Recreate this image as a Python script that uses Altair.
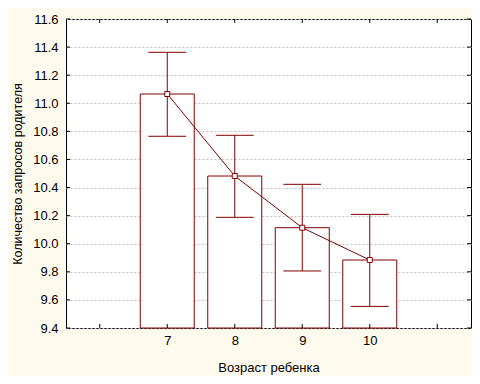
import altair as alt
import pandas as pd

# Data
ages = [7, 8, 9, 10]
means = [11.066, 10.482, 10.114, 9.884]
upper = [11.363, 10.772, 10.423, 10.209]
lower = [10.765, 10.188, 9.806, 9.554]

y_ticks = [9.4, 9.6, 9.8, 10.0, 10.2, 10.4, 10.6, 10.8, 11.0, 11.2, 11.4, 11.6]
x_ticks = [6, 7, 8, 9, 10, 11]

RED = "#800000"
BG = "#fffaee"
FONT = "Liberation Sans"
W, H = 405, 309

df = pd.DataFrame({"age": ages, "mean": means, "lo": lower, "hi": upper})
yt = pd.DataFrame({"v": y_ticks})
xt = pd.DataFrame({"v": x_ticks})

x_scale = alt.Scale(domain=[5.5, 11.5], nice=False, zero=False)
y_scale = alt.Scale(domain=[9.4, 11.6], nice=False, zero=False)

x_axis = alt.Axis(
    title="Возраст ребенка", values=x_ticks,
    labelExpr="datum.value >= 7 && datum.value <= 10 ? datum.label : ''",
    ticks=False, domain=False, grid=False, labelPadding=6,
    titleY=39, titleBaseline="middle", titleFontSize=13,
)
y_axis = alt.Axis(
    title="Количество запросов родителя", values=y_ticks, format=".1f",
    ticks=False, domain=False, grid=True, gridColor="#c0c0c0",
    gridDash=[2, 2], gridWidth=1, labelPadding=8,
    titleX=-49, titleY=H / 2, titleAngle=270, titleAlign="center",
    titleBaseline="middle", titleFontSize=12.5,
)


def X(field):
    return alt.X(field, scale=x_scale, axis=x_axis)


def Y(field):
    return alt.Y(field, scale=y_scale, axis=y_axis)


base = alt.Chart(df)

bars = base.transform_calculate(
    x0="datum.age - 0.4", x1="datum.age + 0.4"
).mark_bar(fill="white", stroke=RED, strokeWidth=1).encode(
    x=X("x0:Q"), x2="x1:Q", y=Y("mean:Q"), y2=alt.datum(9.4),
)

line = base.mark_line(color=RED, strokeWidth=1).encode(
    x=X("age:Q"), y=Y("mean:Q"),
)

err = base.mark_rule(color=RED, strokeWidth=1).encode(
    x=X("age:Q"), y=Y("lo:Q"), y2="hi:Q",
)

caps_base = base.transform_calculate(
    c0="datum.age - 0.28", c1="datum.age + 0.28"
)
cap_hi = caps_base.mark_rule(color=RED, strokeWidth=1).encode(
    x=X("c0:Q"), x2="c1:Q", y=Y("hi:Q"),
)
cap_lo = caps_base.mark_rule(color=RED, strokeWidth=1).encode(
    x=X("c0:Q"), x2="c1:Q", y=Y("lo:Q"),
)

points = base.mark_square(size=25, fill="white", stroke=RED,
                          strokeWidth=1, opacity=1).encode(
    x=X("age:Q"), y=Y("mean:Q"),
)

ytl = alt.Chart(yt).mark_rule(color="black").encode(
    y=Y("v:Q"), x=alt.value(0), x2=alt.value(4))
ytr = alt.Chart(yt).mark_rule(color="black").encode(
    y=Y("v:Q"), x=alt.value(W - 4), x2=alt.value(W))
xtt = alt.Chart(xt).mark_rule(color="black").encode(
    x=X("v:Q"), y=alt.value(0), y2=alt.value(4))
xtb = alt.Chart(xt).mark_rule(color="black").encode(
    x=X("v:Q"), y=alt.value(H - 4), y2=alt.value(H))

chart = alt.layer(
    bars, line, err, cap_hi, cap_lo, points, ytl, ytr, xtt, xtb
).properties(
    width=W, height=H,
    autosize=alt.AutoSizeParams(type="none"),
    padding={"left": 58, "top": 11, "right": 1, "bottom": 48},
    background=BG,
).configure_view(
    stroke="black", strokeWidth=1, fill="white"
).configure_axis(
    labelFont=FONT, titleFont=FONT, labelFontSize=13,
    labelColor="black", titleColor="black", titleFontWeight="normal",
)

chart.save("out.html", embed_options={"renderer": "svg", "actions": False})
